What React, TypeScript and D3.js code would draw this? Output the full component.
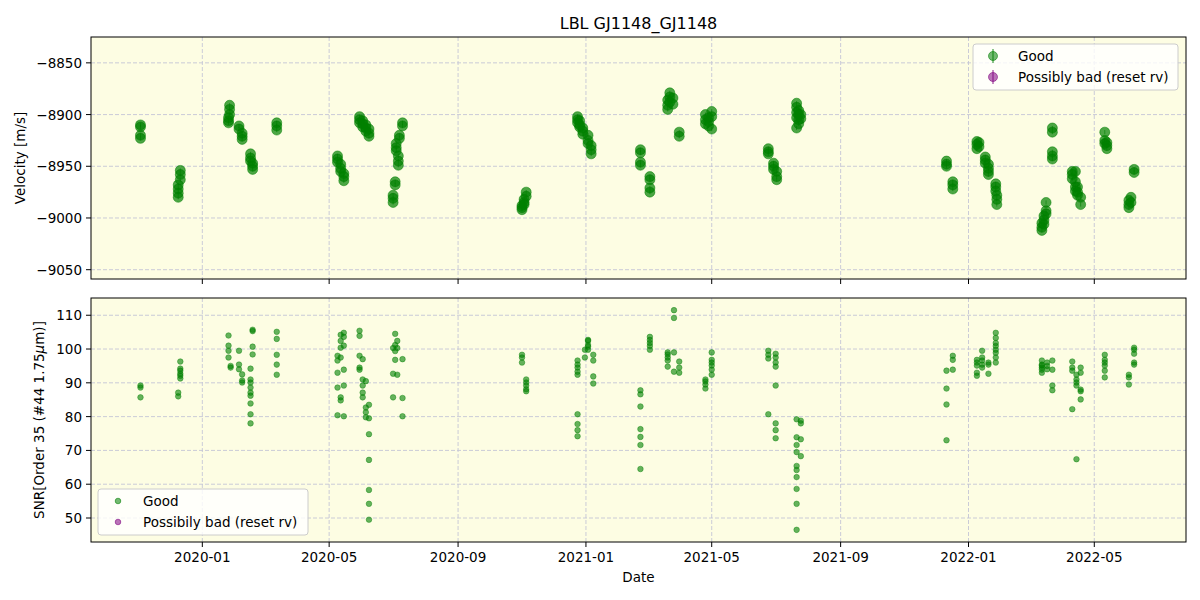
import React from 'react';
import * as d3 from 'd3';

// observation nights (UTC) and the RV values measured on each
const rvDates = [
  '2019-11-03', '2019-12-09', '2019-12-11', '2020-01-26', '2020-01-27', '2020-02-05', '2020-02-08',
  '2020-02-16', '2020-02-18', '2020-03-12', '2020-05-09', '2020-05-12', '2020-05-15', '2020-05-30',
  '2020-06-02', '2020-06-05', '2020-06-08', '2020-07-01', '2020-07-03', '2020-07-04', '2020-07-06',
  '2020-07-07', '2020-07-10', '2020-11-01', '2020-11-03', '2020-11-05', '2020-12-24', '2020-12-26',
  '2020-12-29', '2021-01-03', '2021-01-06', '2021-02-22', '2021-03-03', '2021-03-20', '2021-03-22',
  '2021-03-25', '2021-03-31', '2021-04-25', '2021-04-28', '2021-05-01', '2021-06-24', '2021-06-29',
  '2021-07-02', '2021-07-21', '2021-07-23', '2021-07-25', '2021-12-11', '2021-12-17', '2022-01-09',
  '2022-01-11', '2022-01-17', '2022-01-20', '2022-01-27', '2022-01-28', '2022-03-12', '2022-03-14',
  '2022-03-16', '2022-03-22', '2022-04-10', '2022-04-13', '2022-04-15', '2022-04-18', '2022-05-11',
  '2022-05-13', '2022-06-03', '2022-06-05', '2022-06-08',
];
const rvValues = [
  [-8910, -8912, -8920, -8923], [-8968, -8972, -8976, -8980], [-8954, -8958, -8963],
  [-8903, -8906, -8908], [-8891, -8895, -8900], [-8911, -8914], [-8918, -8921, -8924],
  [-8938, -8942, -8945], [-8947, -8950, -8953], [-8908, -8911, -8915], [-8940, -8943, -8946],
  [-8948, -8952, -8955], [-8957, -8960, -8964], [-8902, -8905, -8908], [-8906, -8909, -8912],
  [-8910, -8913, -8916], [-8914, -8918, -8921], [-8978, -8981, -8985], [-8965, -8968],
  [-8928, -8932, -8935], [-8940, -8945, -8949], [-8920, -8923], [-8908, -8911],
  [-8988, -8992, -8990], [-8982, -8985, -8987], [-8975, -8979], [-8902, -8905, -8908],
  [-8906, -8910, -8912], [-8913, -8916, -8919], [-8920, -8925, -8928], [-8930, -8934, -8938],
  [-8934, -8937, -8946, -8949], [-8960, -8963, -8971, -8975], [-8886, -8891, -8895],
  [-8879, -8883, -8888], [-8884, -8890], [-8917, -8921], [-8900, -8905, -8909],
  [-8903, -8907, -8911], [-8897, -8902, -8914], [-8933, -8936, -8938], [-8947, -8950, -8953],
  [-8955, -8960, -8963], [-8889, -8893, -8898, -8903, -8913], [-8896, -8900, -8905, -8909],
  [-8900, -8904], [-8945, -8948, -8950], [-8965, -8968, -8972], [-8926, -8929, -8933],
  [-8927, -8931], [-8941, -8944, -8947], [-8948, -8952, -8955, -8958], [-8967, -8970, -8974],
  [-8978, -8982, -8987], [-9005, -9009, -9012], [-8998, -9002, -9006], [-8985, -8993, -8996],
  [-8913, -8917, -8936, -8940, -8943], [-8955, -8958, -8962], [-8955, -8965, -8970, -8974],
  [-8970, -8975, -8978], [-8980, -8987], [-8917, -8925, -8928], [-8927, -8930, -8933],
  [-8983, -8987, -8990], [-8980, -8985], [-8953, -8956],
];

const snrDates = [
  '2019-11-03', '2019-12-09', '2019-12-11', '2020-01-26', '2020-01-28', '2020-02-05', '2020-02-08',
  '2020-02-16', '2020-02-18', '2020-03-12', '2020-05-09', '2020-05-12', '2020-05-15', '2020-05-30',
  '2020-06-02', '2020-06-05', '2020-06-08', '2020-07-01', '2020-07-03', '2020-07-05', '2020-07-10',
  '2020-11-01', '2020-11-05', '2020-12-24', '2020-12-31', '2021-01-03', '2021-01-08', '2021-02-22',
  '2021-03-03', '2021-03-20', '2021-03-26', '2021-03-31', '2021-04-25', '2021-05-01', '2021-06-24',
  '2021-07-01', '2021-07-21', '2021-07-25', '2021-12-11', '2021-12-17', '2022-01-09', '2022-01-14',
  '2022-01-20', '2022-01-27', '2022-03-12', '2022-03-17', '2022-03-22', '2022-04-10', '2022-04-14',
  '2022-04-18', '2022-05-11', '2022-06-03', '2022-06-08',
];
const snrValues = [
  [89.2, 88.6, 85.7], [87.1, 86], [96.3, 94.2, 93.6, 92.7, 92.1, 91.3], [104, 101, 99.5, 97.5],
  [95, 94.5], [99.5, 95.4, 94], [92.5, 90.7, 90.1], [94.2, 91, 90.1, 88.6, 87.1, 86.2, 83.9, 80.7, 78],
  [105.7, 105.3, 100.7, 98.4], [105.1, 103, 98.3, 95.4, 92.4], [98, 96.6, 93, 88.6, 80.4],
  [104.2, 102.4, 100.4, 97.5, 85.7, 84.8], [104.8, 103.6, 101, 89.2, 93.9, 80.1],
  [105.4, 103.9, 93.9, 94.5, 98], [91, 89.2, 87.1, 85.7, 97], [82.7, 81.3, 79.8, 90.5],
  [74.8, 67.2, 58.3, 54.2, 49.5, 83.5, 79.5], [92.7, 85.7, 100.3], [104.5, 101.2, 99.4, 96.8],
  [102.4, 100.3, 92.4], [85.5, 80.1, 97], [98.3, 97.5, 96], [91, 90.1, 89.2, 88.1, 87.5],
  [96.6, 95.4, 94.5, 93.3, 92.4, 80.7, 77.8, 76, 74.2], [99.8, 97.5], [102.7, 102.4, 101.2, 100.7, 99.8],
  [98.3, 96.6, 91.9, 89.8], [87.8, 86.6, 83, 76.3, 74, 71.6, 64.5], [103.6, 102.7, 101.8, 100.9, 99.8],
  [99, 98.4, 97.5, 96.6, 94.8], [111.5, 109.2, 99, 93.3], [96.3, 94.5, 93], [90.4, 88.3, 91, 89.5],
  [92.4, 93.9, 95.1, 96, 96.8, 99], [99.5, 98.3, 97.2, 80.7], [98.6, 97.5, 96, 94.8, 89.2, 78, 76, 73.6],
  [79.2, 73.9, 71.6, 69.5, 65.4, 64.2, 62.1, 58.6, 54.2, 46.5], [78, 73.3, 68.3, 78.8],
  [93.6, 88.3, 83.6, 73], [98, 96.8, 93.9], [96.8, 96, 95.1, 93, 92.1], [96.6, 95.4, 94.5, 97.5, 99.5],
  [95.4, 92.7, 96], [104.8, 103.3, 101.8, 100.9, 99.8, 98.9, 97.5, 96], [96.6, 95.4, 95.1, 94.5, 93.9, 93],
  [96, 95, 94], [96.6, 93.9, 89.2, 87.8], [96.3, 94.5, 93.6, 82.2], [92.4, 91, 90.1, 89.2, 67.4],
  [88, 87.5, 85.1, 94.5, 93], [98.3, 96.8, 96, 95.1, 93.6, 91.6], [89.5, 91.6, 92.4],
  [95.4, 96, 98.6, 99.8, 100.4],
];

const dateTicks = ['2020-01-01', '2020-05-01', '2020-09-01', '2021-01-01', '2021-05-01', '2021-09-01', '2022-01-01', '2022-05-01'];
const rvTicks = [-8850, -8900, -8950, -9000, -9050];
const snrTicks = [50, 60, 70, 80, 90, 100, 110];
const rvLegend = ['Good', 'Possibly bad (reset rv)'];
const snrLegend = ['Good', 'Possibily bad (reset rv)'];

const parse = d3.utcParse('%Y-%m-%d');
const fmt = d3.utcFormat('%Y-%m');
const minus = (v: number) => String(v).replace('-', '\u2212');

const FONT = 'DejaVu Sans, sans-serif';
const BG = '#fdfde3';
const GRID = '#c4c5d6';
const GREEN = '#008000';
const PURPLE = '#800080';

const L = 91, R = 1186;
const top1 = 37, bot1 = 279, top2 = 298, bot2 = 542;

function Legend({ x, y, w, labels, errbar }: { x: number; y: number; w: number; labels: string[]; errbar: boolean }) {
  const colors = [GREEN, PURPLE];
  return (
    <g>
      <rect x={x} y={y} width={w} height={46} rx={3} fill="white" fillOpacity={0.8} stroke="#cccccc" />
      {labels.map((lab, i) => {
        const cy = y + 12 + i * 21;
        return (
          <g key={lab}>
            {errbar && <line x1={x + 20} x2={x + 20} y1={cy - 7} y2={cy + 7} stroke={colors[i]} strokeOpacity={0.6} strokeWidth={1.5} />}
            <circle cx={x + 20} cy={cy} r={errbar ? 4.5 : 2.8} fill={colors[i]} fillOpacity={0.55} stroke={colors[i]} strokeOpacity={0.55} />
            <text x={x + 45} y={cy + 5} fontSize={13.5} fontFamily={FONT}>{lab}</text>
          </g>
        );
      })}
    </g>
  );
}

export default function App() {
  const x = d3.scaleUtc()
    .domain([new Date(Date.UTC(2019, 8, 16, 19)), new Date(Date.UTC(2022, 6, 27, 12))])
    .range([L, R]);
  const y1 = d3.scaleLinear().domain([-9059, -8825]).range([bot1, top1]);
  const y2 = d3.scaleLinear().domain([42.9, 115.1]).range([bot2, top2]);
  const ticks = dateTicks.map((d) => parse(d) as Date);

  const rvPts = rvDates.flatMap((d, i) => rvValues[i].map((v) => ({ t: parse(d) as Date, v })));
  const snrPts = snrDates.flatMap((d, i) => snrValues[i].map((v) => ({ t: parse(d) as Date, v })));

  const panel = (top: number, bot: number, y: d3.ScaleLinear<number, number>, yt: number[], showLabels: boolean) => (
    <g>
      <rect x={L} y={top} width={R - L} height={bot - top} fill={BG} />
      {ticks.map((t) => (
        <line key={+t} x1={x(t)} x2={x(t)} y1={top} y2={bot} stroke={GRID} strokeDasharray="4,2" strokeWidth={0.9} />
      ))}
      {yt.map((v) => (
        <line key={v} x1={L} x2={R} y1={y(v)} y2={y(v)} stroke={GRID} strokeDasharray="4,2" strokeWidth={0.9} />
      ))}
      {ticks.map((t) => (
        <g key={'t' + +t}>
          <line x1={x(t)} x2={x(t)} y1={bot} y2={bot + 5} stroke="black" />
          {showLabels && (
            <text x={x(t)} y={bot + 20} textAnchor="middle" fontSize={13.5} fontFamily={FONT}>{fmt(t)}</text>
          )}
        </g>
      ))}
      {yt.map((v) => (
        <g key={'y' + v}>
          <line x1={L - 5} x2={L} y1={y(v)} y2={y(v)} stroke="black" />
          <text x={L - 9} y={y(v) + 5} textAnchor="end" fontSize={13.5} fontFamily={FONT}>{minus(v)}</text>
        </g>
      ))}
    </g>
  );

  return (
    <svg width={1200} height={600} style={{ position: 'absolute', left: 0, top: 0, background: 'white' }}>
      <text x={(L + R) / 2} y={29} textAnchor="middle" fontSize={16} fontFamily={FONT}>LBL GJ1148_GJ1148</text>

      {panel(top1, bot1, y1, rvTicks, false)}
      <g>
        {rvPts.map((p, i) => (
          <g key={i}>
            <line x1={x(p.t)} x2={x(p.t)} y1={y1(p.v - 2)} y2={y1(p.v + 2)} stroke={GREEN} strokeOpacity={0.6} />
            <circle cx={x(p.t)} cy={y1(p.v)} r={5} fill={GREEN} fillOpacity={0.7} stroke={GREEN} strokeOpacity={0.5} />
          </g>
        ))}
      </g>
      <rect x={L} y={top1} width={R - L} height={bot1 - top1} fill="none" stroke="black" strokeWidth={1} />
      <Legend x={973} y={44} w={205} labels={rvLegend} errbar={true} />
      <text transform={`translate(25,${(top1 + bot1) / 2}) rotate(-90)`} textAnchor="middle" fontSize={13.5} fontFamily={FONT}>Velocity [m/s]</text>

      {panel(top2, bot2, y2, snrTicks, true)}
      <g>
        {snrPts.map((p, i) => (
          <circle key={i} cx={x(p.t)} cy={y2(p.v)} r={2.8} fill={GREEN} fillOpacity={0.6} stroke={GREEN} strokeOpacity={0.4} />
        ))}
      </g>
      <rect x={L} y={top2} width={R - L} height={bot2 - top2} fill="none" stroke="black" strokeWidth={1} />
      <Legend x={98} y={489} w={210} labels={snrLegend} errbar={false} />
      <text transform={`translate(44,${(top2 + bot2) / 2}) rotate(-90)`} textAnchor="middle" fontSize={13.5} fontFamily={FONT}>
        SNR[Order 35 (#44 1.75<tspan fontStyle="italic">μ</tspan>m)]
      </text>
      <text x={(L + R) / 2} y={582} textAnchor="middle" fontSize={13.5} fontFamily={FONT}>Date</text>
    </svg>
  );
}
